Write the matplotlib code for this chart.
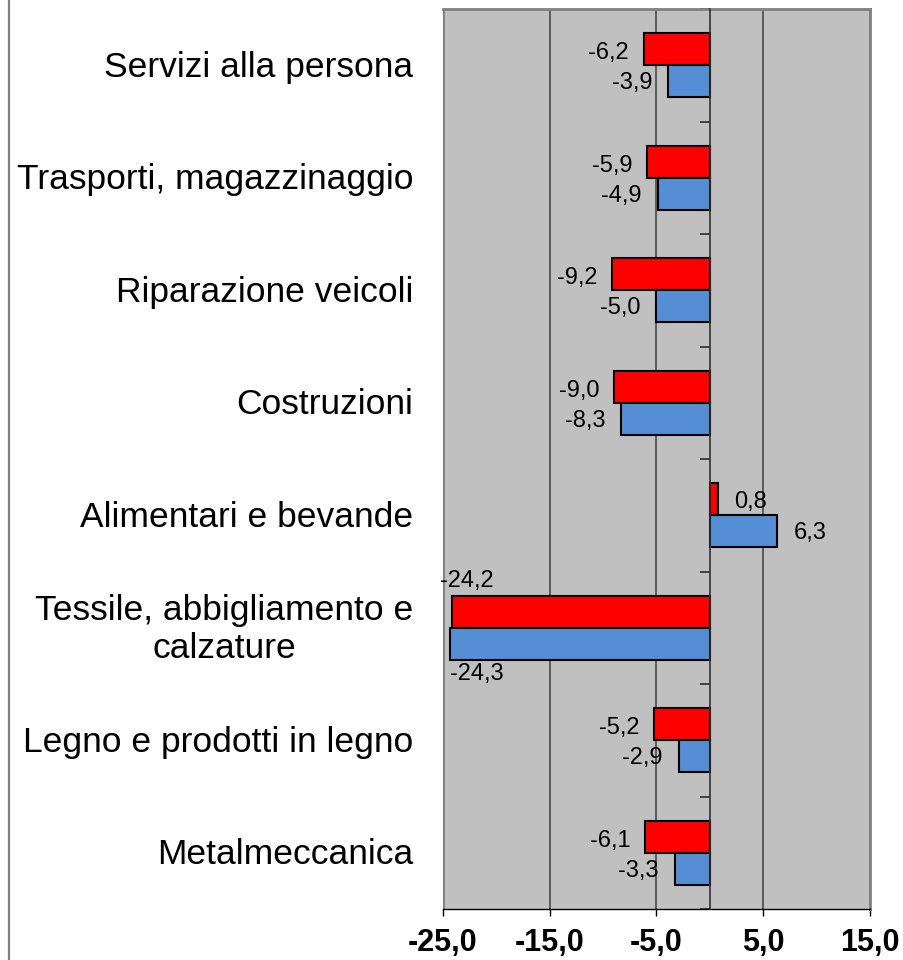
import matplotlib
matplotlib.use("Agg")
import matplotlib.pyplot as plt
from matplotlib.lines import Line2D

plt.rcParams['font.family'] = ['Liberation Sans', 'DejaVu Sans']

categories = ["Servizi alla persona", "Trasporti, magazzinaggio", "Riparazione veicoli",
              "Costruzioni", "Alimentari e bevande", "Tessile, abbigliamento e\ncalzature",
              "Legno e prodotti in legno", "Metalmeccanica"]
red_values = [-6.2, -5.9, -9.2, -9.0, 0.8, -24.2, -5.2, -6.1]
blue_values = [-3.9, -4.9, -5.0, -8.3, 6.3, -24.3, -2.9, -3.3]
x_ticks = [-25, -15, -5, 5, 15]

RED = "#FF0000"
BLUE = "#558ED5"
BG = "#C0C0C0"

fig = plt.figure(figsize=(9.04, 9.6), dpi=100)
ax = fig.add_axes([443 / 904, 1 - 909 / 960, (870 - 443) / 904, 900 / 960])
ax.set_facecolor(BG)

n = len(categories)
pos = list(range(n))
h = 0.285
ax.barh([p - h / 2 for p in pos], red_values, height=h, color=RED, edgecolor="black", linewidth=1.5, zorder=3)
ax.barh([p + h / 2 for p in pos], blue_values, height=h, color=BLUE, edgecolor="black", linewidth=1.5, zorder=3)

ax.set_xlim(-25, 15)
ax.set_ylim(n - 0.5, -0.5)

# x axis
ax.set_xticks(x_ticks)
ax.set_xticklabels([f"{t:.1f}".replace(".", ",") for t in x_ticks], fontsize=22, fontweight="bold")
ax.tick_params(axis="x", direction="out", length=5, width=1, color="black", pad=9)
ax.grid(axis="x", color="#404040", linewidth=1.1, zorder=1)
gl = ax.get_xgridlines()
gl[0].set_color("#808080"); gl[0].set_linewidth(2)
gl[-1].set_color("#808080"); gl[-1].set_linewidth(2)

# y axis at zero
ax.spines["left"].set_position(("data", 0))
ax.spines["left"].set_color("#303030")
ax.spines["left"].set_linewidth(1.2)
ax.spines["left"].set_zorder(4)
ax.set_yticks([])
ax.set_yticks([p - 0.5 for p in pos] + [n - 0.5], minor=True)
ax.tick_params(axis="y", which="minor", direction="out", length=7.5, width=1.1, color="#202020")
ax.spines["top"].set_color("#808080"); ax.spines["top"].set_linewidth(2)
ax.spines["right"].set_color("#808080"); ax.spines["right"].set_linewidth(2)
ax.spines["bottom"].set_color("black"); ax.spines["bottom"].set_linewidth(1)

# category labels
for p, c in zip(pos, categories):
    ax.annotate(c, xy=(0, p), xycoords=("axes fraction", "data"), xytext=(-21.5, -1.5),
                textcoords="offset points", ha="right", va="center", multialignment="center",
                fontsize=25.5, annotation_clip=False)

def fmt(v):
    return f"{v:.1f}".replace(".", ",")

# data labels
for p, rv, bv in zip(pos, red_values, blue_values):
    yr = p - h / 2
    yb = p + h / 2
    if rv < -20:
        ax.annotate(fmt(rv), xy=(rv, p - h), xytext=(-8, 3), textcoords="offset points",
                    ha="left", va="bottom", fontsize=17, annotation_clip=False)
    elif rv < 0:
        ax.annotate(fmt(rv), xy=(rv, yr), xytext=(-10.5, -3), textcoords="offset points",
                    ha="right", va="center", fontsize=17)
    else:
        ax.annotate(fmt(rv), xy=(rv, yr), xytext=(11.5, -2), textcoords="offset points",
                    ha="left", va="center", fontsize=17)
    if bv < -20:
        ax.annotate(fmt(bv), xy=(bv, p + h), xytext=(0, -2), textcoords="offset points",
                    ha="left", va="top", fontsize=17, annotation_clip=False)
    elif bv < 0:
        ax.annotate(fmt(bv), xy=(bv, yb), xytext=(-11.5, -1.5), textcoords="offset points",
                    ha="right", va="center", fontsize=17)
    else:
        ax.annotate(fmt(bv), xy=(bv, yb), xytext=(12, -1), textcoords="offset points",
                    ha="left", va="center", fontsize=17)

# chart frame line on the left
fig.add_artist(Line2D([8.5 / 904, 8.5 / 904], [0, 1], transform=fig.transFigure,
                      color="#808080", linewidth=1.6))

fig.savefig("out.png", dpi=100)
